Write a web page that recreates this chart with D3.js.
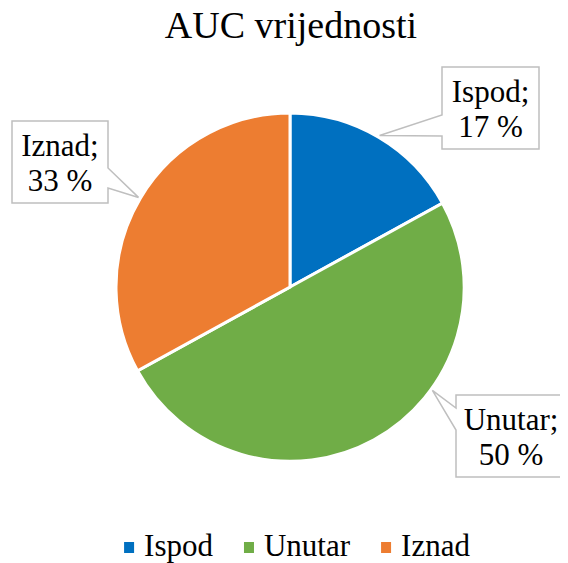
<!DOCTYPE html>
<html>
<head><meta charset="utf-8"></head>
<body>
<script src="https://cdn.jsdelivr.net/npm/d3@7/dist/d3.min.js"></script>
<script>
var categories = ['Ispod', 'Unutar', 'Iznad'];
var values = [17, 50, 33];
var valueLabels = ['17 %', '50 %', '33 %'];
var colors = ['#0070C0', '#70AD47', '#ED7D31'];

var width = 568, height = 563;
var cx = 290, cy = 287, radius = 174;
var serifFont = 'Liberation Serif';

// callout boxes (Excel places these by hand)
var callouts = {
    Ispod:  { x: 442, y: 67,  w: 97,  h: 82, side: 'left',  w0: 48, w1: 69, angle: null },
    Unutar: { x: 456, y: 395, w: 110, h: 82, side: 'left',  w0: 13, w1: 35, angle: 126 },
    Iznad:  { x: 12,  y: 121, w: 96,  h: 82, side: 'right', w0: 47, w1: 67, angle: null }
};

// body keeps its default 8px margin, so pull the drawing back by it
var svg = d3.select('body').append('svg')
    .attr('width', width)
    .attr('height', height)
    .append('g')
    .attr('transform', 'translate(-8,-8)');

svg.append('text')
    .attr('x', 291)
    .attr('y', 38)
    .attr('text-anchor', 'middle')
    .attr('font-family', serifFont)
    .style('font-size', '38px')
    .text('AUC vrijednosti');

var data = categories.map(function (c, i) {
    return { name: c, value: values[i], label: valueLabels[i], color: colors[i] };
});

var pie = d3.pie().sort(null).value(function (d) { return d.value; });
var arc = d3.arc().innerRadius(0).outerRadius(radius);
var arcs = pie(data);

var g = svg.append('g').attr('transform', 'translate(' + cx + ',' + cy + ')');
g.selectAll('path')
    .data(arcs)
    .enter()
    .append('path')
    .attr('d', arc)
    .attr('fill', function (d) { return d.data.color; })
    .attr('stroke', '#ffffff')
    .attr('stroke-width', 3);

// data label callouts
arcs.forEach(function (a) {
    var c = callouts[a.data.name];
    var ang = c.angle != null ? c.angle * Math.PI / 180 : (a.startAngle + a.endAngle) / 2;
    var tip = d3.pointRadial(ang, radius + 2);
    var tx = cx + tip[0], ty = cy + tip[1];
    var x0 = c.x, y0 = c.y, x1 = c.x + c.w, y1 = c.y + c.h;
    var p = d3.path();
    if (c.side === 'left') {
        p.moveTo(x0, y0); p.lineTo(x1, y0); p.lineTo(x1, y1); p.lineTo(x0, y1);
        p.lineTo(x0, y0 + c.w1); p.lineTo(tx, ty); p.lineTo(x0, y0 + c.w0);
    } else {
        p.moveTo(x0, y0); p.lineTo(x1, y0); p.lineTo(x1, y0 + c.w0); p.lineTo(tx, ty);
        p.lineTo(x1, y0 + c.w1); p.lineTo(x1, y1); p.lineTo(x0, y1);
    }
    p.closePath();
    svg.append('path')
        .attr('d', p.toString())
        .attr('fill', '#ffffff')
        .attr('stroke', '#BFBFBF')
        .attr('stroke-width', 1.5);
    svg.append('text')
        .attr('x', x0 + c.w / 2).attr('y', y0 + 35)
        .attr('text-anchor', 'middle')
        .attr('font-family', serifFont)
        .style('font-size', '31px')
        .text(a.data.name + ';');
    svg.append('text')
        .attr('x', x0 + c.w / 2).attr('y', y0 + 70)
        .attr('text-anchor', 'middle')
        .attr('font-family', serifFont)
        .style('font-size', '31px')
        .text(a.data.label);
});

// legend
var legend = svg.append('g');
var items = legend.selectAll('g')
    .data(data)
    .enter()
    .append('g');
items.append('rect')
    .attr('width', 10)
    .attr('height', 11)
    .attr('y', -14)
    .attr('fill', function (d) { return d.color; });
items.append('text')
    .attr('x', 20)
    .attr('y', 0)
    .attr('font-family', serifFont)
    .style('font-size', '31px')
    .text(function (d) { return d.name; });

var gap = 31, pos = 0;
items.each(function () {
    var w = 20 + d3.select(this).select('text').node().getComputedTextLength();
    d3.select(this).attr('transform', 'translate(' + pos + ',0)');
    pos += w + gap;
});
var total = pos - gap;
legend.attr('transform', 'translate(' + (297 - total / 2) + ',556)');
</script>
</body>
</html>
